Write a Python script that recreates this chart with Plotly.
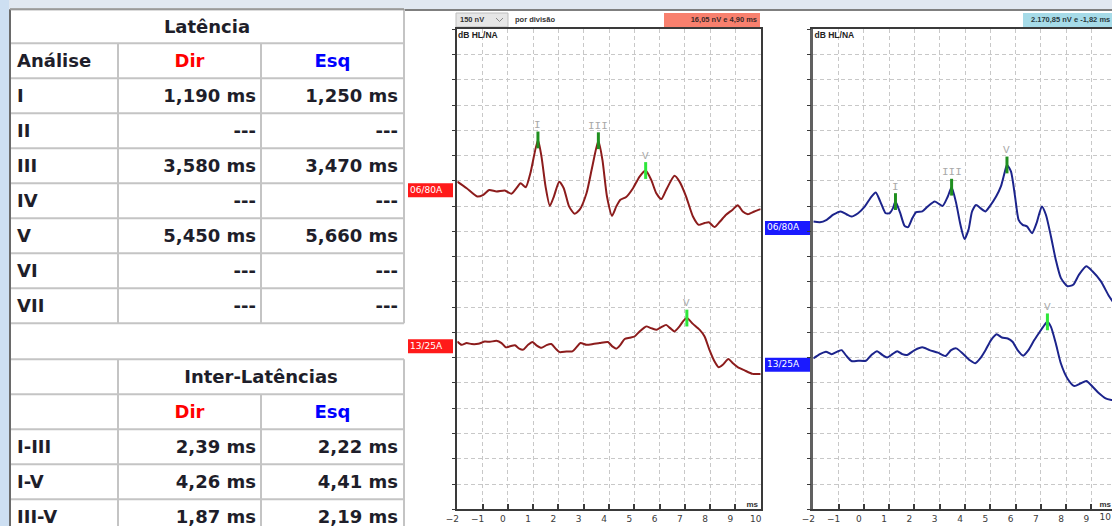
import plotly.graph_objects as go

# ---------------- data ----------------
# Latency table (ms); None = wave not identified
wave_names = ["I", "II", "III", "IV", "V", "VI", "VII"]
dir_latency_ms = [1.190, None, 3.580, None, 5.450, None, None]
esq_latency_ms = [1.250, None, 3.470, None, 5.660, None, None]

# Inter-peak intervals, as pairs of wave indices
inter_names = ["I-III", "I-V", "III-V"]
inter_pairs = [(0, 2), (0, 4), (2, 4)]

# Waveforms: time (ms) and amplitude (grid divisions, 150 nV per division)
dir_80_ms = [-2, -1.63, -1.21, -0.97, -0.74, -0.45, -0.12, 0.14, 0.34, 0.5, 0.71, 0.89, 1.19, 1.33,
             1.49, 1.66, 1.82, 2.03, 2.21, 2.42, 2.64, 2.84, 3.11, 3.34, 3.58, 3.74, 3.92, 4.12, 4.29,
             4.45, 4.68, 4.95, 5.21, 5.45, 5.67, 5.87, 6.07, 6.26, 6.59, 6.79, 7.05, 7.32, 7.55, 7.78,
             7.95, 8.17, 8.39, 8.63, 8.89, 9.09, 9.29, 9.49, 9.75, 10.0]
dir_80_amp = [12.97, 12.71, 12.38, 12.45, 12.64, 12.58, 12.62, 12.49, 12.71, 12.91, 12.75, 13.30, 14.62,
              13.96, 12.78, 12.01, 12.38, 12.97, 12.71, 11.99, 11.70, 11.86, 12.51, 13.57, 14.59, 13.83,
              12.38, 11.62, 11.99, 12.25, 12.36, 12.71, 13.17, 13.41, 13.04, 12.51, 12.28, 12.64, 13.20,
              12.97, 12.38, 11.59, 11.26, 11.33, 11.36, 11.17, 11.39, 11.66, 11.86, 12.04, 11.79, 11.68,
              11.79, 11.88]

dir_25_ms = [-2, -1.83, -1.63, -1.43, -1.17, -0.91, -0.71, -0.45, -0.25, -0.08, 0.08, 0.28, 0.45, 0.61,
             0.80, 0.97, 1.13, 1.33, 1.53, 1.72, 1.89, 2.05, 2.32, 2.55, 2.71, 2.87, 3.11, 3.37, 3.63,
             3.96, 4.13, 4.29, 4.45, 4.62, 4.82, 5.01, 5.21, 5.47, 5.67, 5.89, 6.07, 6.26, 6.42, 6.59,
             6.79, 6.95, 7.08, 7.32, 7.58, 7.78, 7.97, 8.17, 8.34, 8.50, 8.72, 8.89, 9.09, 9.36, 9.68, 10.0]
dir_25_amp = [6.64, 6.51, 6.58, 6.54, 6.55, 6.64, 6.63, 6.67, 6.58, 6.41, 6.45, 6.49, 6.36, 6.32, 6.51,
              6.62, 6.49, 6.39, 6.50, 6.54, 6.36, 6.22, 6.25, 6.25, 6.41, 6.58, 6.51, 6.54, 6.58, 6.62,
              6.45, 6.36, 6.51, 6.74, 6.79, 6.84, 7.04, 7.24, 7.17, 7.11, 7.21, 7.30, 7.17, 7.04, 7.24,
              7.47, 7.57, 7.34, 7.11, 6.84, 6.32, 5.86, 5.62, 5.72, 5.95, 5.79, 5.63, 5.50, 5.36, 5.36]

esq_80_ms = [-2, -1.74, -1.47, -1.21, -0.92, -0.69, -0.49, -0.23, 0.04, 0.26, 0.47, 0.65, 0.86, 1.02,
             1.15, 1.25, 1.44, 1.61, 1.75, 1.92, 2.07, 2.31, 2.53, 2.80, 2.97, 3.12, 3.32, 3.47, 3.65,
             3.82, 3.98, 4.14, 4.28, 4.44, 4.61, 4.81, 4.99, 5.23, 5.42, 5.56, 5.66, 5.82, 5.98, 6.12,
             6.28, 6.45, 6.65, 6.83, 7.04, 7.20, 7.40, 7.59, 7.79, 8.05, 8.28, 8.51, 8.80, 9.04, 9.37,
             9.70, 10.0]
esq_80_amp = [11.39, 11.36, 11.46, 11.66, 11.79, 11.68, 11.59, 11.72, 11.99, 12.32, 12.54, 12.18, 11.72,
              11.72, 11.92, 12.18, 11.72, 11.22, 11.17, 11.53, 11.76, 11.79, 11.99, 12.18, 12.09, 12.01,
              12.38, 12.75, 12.12, 11.26, 10.70, 11.07, 11.79, 12.05, 11.92, 11.79, 12.01, 12.38, 12.78,
              13.30, 13.63, 13.37, 12.38, 11.46, 11.26, 11.20, 10.93, 11.33, 11.99, 11.66, 10.80, 9.88,
              9.16, 8.83, 8.89, 9.29, 9.62, 9.42, 9.03, 8.43, 8.0]

esq_25_ms = [-2, -1.74, -1.50, -1.28, -1.05, -0.88, -0.69, -0.49, -0.23, 0.08, 0.30, 0.52, 0.73, 0.92,
             1.13, 1.32, 1.52, 1.71, 2.01, 2.31, 2.60, 2.93, 3.23, 3.45, 3.65, 3.91, 4.18, 4.41, 4.60,
             4.81, 5.03, 5.25, 5.46, 5.69, 5.88, 6.08, 6.30, 6.51, 6.74, 6.96, 7.17, 7.26, 7.40, 7.59,
             7.79, 8.05, 8.32, 8.58, 8.80, 9.04, 9.30, 9.56, 9.79, 10.0]
esq_25_amp = [5.97, 6.14, 6.24, 6.14, 6.24, 6.30, 6.07, 5.87, 5.88, 5.88, 6.11, 6.26, 6.11, 6.01, 6.14,
              6.26, 6.14, 6.11, 6.30, 6.41, 6.30, 6.20, 6.07, 6.30, 6.37, 6.17, 5.91, 5.78, 5.97, 6.30,
              6.70, 6.93, 6.80, 6.76, 6.63, 6.30, 6.08, 6.30, 6.70, 7.03, 7.33, 7.42, 7.22, 6.57, 5.78,
              5.18, 4.88, 4.99, 5.08, 4.86, 4.59, 4.39, 4.33, 4.30]

# Low-intensity wave V latencies (ms)
dir_25_wave_v_ms = 7.08
esq_25_wave_v_ms = 7.26

x_ticks = list(range(-2, 11))
scale_label = "150 nV"
dir_cursor_text = "16,05 nV e 4,90 ms"
esq_cursor_text = "2.170,85 nV e -1,82 ms"
level_80_name = "06/80A"
level_25_name = "13/25A"

# ---------------- styling ----------------
W, H = 1112, 526
RED_TRACE = "#8c1c1c"
BLUE_TRACE = "#1c248c"
GREEN_DARK = "#1f8f1f"
GREEN_LIGHT = "#2ee63a"
TXT = "#1e1e2a"
GRID = "#c8c8c8"
CELL = "#c4c4c4"
FONT = "DejaVu Sans"
SMALL_FONT = "Liberation Sans"


def px(x):
    return x / W


def py(y):
    return 1 - y / H


fig = go.Figure()

# ---------------- waveforms ----------------
def add_wave(xs, ys, color, xa, ya):
    fig.add_trace(go.Scatter(x=xs, y=ys, mode="lines", xaxis=xa, yaxis=ya,
                             line=dict(color=color, width=2, shape="spline", smoothing=0.6),
                             hoverinfo="skip"))


peak_labels = []


def add_peak(xs, ys, lat, name, color, xa, ya):
    amp = ys[xs.index(lat)]
    fig.add_trace(go.Scatter(x=[lat], y=[amp], mode="markers", xaxis=xa, yaxis=ya, cliponaxis=False,
                             marker=dict(symbol="line-ns", size=12,
                                         line=dict(color=color, width=3)),
                             hoverinfo="skip"))
    peak_labels.append(dict(x=lat, y=amp, xref=xa, yref=ya, text=name, showarrow=False, yshift=15,
                            font=dict(family="Liberation Mono", size=11, color="#a8a8a8")))


add_wave(dir_80_ms, dir_80_amp, RED_TRACE, "x", "y")
add_wave(dir_25_ms, dir_25_amp, RED_TRACE, "x", "y")
add_wave(esq_80_ms, esq_80_amp, BLUE_TRACE, "x2", "y2")
add_wave(esq_25_ms, esq_25_amp, BLUE_TRACE, "x2", "y2")

for name, lat in zip(wave_names, dir_latency_ms):
    if lat is not None:
        add_peak(dir_80_ms, dir_80_amp, lat, name, GREEN_LIGHT if name == "V" else GREEN_DARK, "x", "y")
for name, lat in zip(wave_names, esq_latency_ms):
    if lat is not None:
        add_peak(esq_80_ms, esq_80_amp, lat, name, GREEN_DARK, "x2", "y2")
add_peak(dir_25_ms, dir_25_amp, dir_25_wave_v_ms, "V", GREEN_LIGHT, "x", "y")
add_peak(esq_25_ms, esq_25_amp, esq_25_wave_v_ms, "V", GREEN_LIGHT, "x2", "y2")

# ---------------- axes ----------------
plot_top, plot_bottom = 29.3, 509.3
ydom = [py(plot_bottom), py(plot_top)]
left_x0, left_x1 = 457.3, 760.7
right_x0 = 813.3
ms_px = (left_x1 - left_x0) / 12
right_xmax = -2 + (W - right_x0) / ms_px

xcommon = dict(dtick=1, tick0=0, showgrid=True, gridcolor=GRID, griddash="4px,3px", gridwidth=1,
               zeroline=False, showline=True, linecolor="#3a3a3a", linewidth=2, ticks="inside",
               ticklen=5, tickcolor="#3a3a3a", tickwidth=1.5, tickvals=x_ticks,
               tickfont=dict(family=FONT, size=9, color="#3a3a3a"), ticklabelshift=-5,
               fixedrange=True)
ycommon = dict(range=[0, 19], dtick=1, tick0=0, showgrid=True, gridcolor=GRID, griddash="4px,3px",
               gridwidth=1, zeroline=False, showline=True, linecolor="#3a3a3a", linewidth=1.5,
               ticks="outside", ticklen=4, tickcolor="#3a3a3a", showticklabels=False,
               domain=ydom, fixedrange=True)

# full-figure pixel frame for text labels
pixel_axis = dict(visible=False, showgrid=False, zeroline=False, fixedrange=True, domain=[0, 1])

fig.update_layout(
    xaxis=dict(xcommon, domain=[px(left_x0), px(left_x1)], range=[-2, 10], mirror=True, anchor="y"),
    yaxis=dict(ycommon, mirror=True, anchor="x"),
    xaxis2=dict(xcommon, domain=[px(right_x0), 1.0], range=[-2, right_xmax], mirror=True, anchor="y2"),
    yaxis2=dict(ycommon, anchor="x2", linecolor="#606060", linewidth=2.5),
    xaxis3=dict(pixel_axis, range=[0, W], anchor="y3"),
    yaxis3=dict(pixel_axis, range=[H, 0], anchor="x3"),
)

shapes = []


def rect(x0, y0, x1, y1, fill, line_color=None, lw=0):
    shapes.append(dict(type="rect", xref="paper", yref="paper", x0=px(x0), x1=px(x1), y0=py(y1),
                       y1=py(y0), fillcolor=fill, layer="below",
                       line=dict(color=line_color or fill, width=lw)))


def hline(x0, x1, y, color, w):
    shapes.append(dict(type="line", xref="paper", yref="paper", x0=px(x0), x1=px(x1), y0=py(y),
                       y1=py(y), line=dict(color=color, width=w), layer="below"))


def vline(x, y0, y1, color, w):
    shapes.append(dict(type="line", xref="paper", yref="paper", x0=px(x), x1=px(x), y0=py(y0),
                       y1=py(y1), line=dict(color=color, width=w), layer="below"))


POS = {"left": "middle right", "center": "middle center", "right": "middle left"}


def text(x, y, s, size=18, color=TXT, xanchor="left", weight="bold", family=FONT):
    fig.add_trace(go.Scatter(x=[x], y=[y], xaxis="x3", yaxis="y3", mode="text", text=[s],
                             textposition=POS[xanchor], hoverinfo="skip",
                             textfont=dict(family=family, size=size, color=color, weight=weight)))


# window backdrop
rect(0, 0, W, 9, "#e1e8f1")
rect(0, 0, 9, H, "#cddff2")
hline(404, W, 10, "#555555", 1.5)

# ---------------- panel headers ----------------
rect(456, 13, 508, 27, "#e6e6e6", "#bdbdbd", 1)
text(460, 20, scale_label, size=7.5, color="#333333", family=SMALL_FONT)
shapes.append(dict(type="path", xref="paper", yref="paper", layer="below",
                   path=f"M {px(496)},{py(18)} L {px(499.5)},{py(21.5)} L {px(503)},{py(18)}",
                   line=dict(color="#888888", width=1)))
text(515, 20, "por divisão", size=7.5, color="#333333", family=SMALL_FONT)
rect(664, 13, 760, 27, "#f8806e")
text(757, 20, dir_cursor_text, size=7.5, color="#3a2a2a", xanchor="right", family=SMALL_FONT)
rect(1023, 13, W + 5, 27, "#a6dbe8")
text(1031, 20, esq_cursor_text, size=7.5, color="#2a3a40", family=SMALL_FONT)
text(458, 36, "dB HL/NA", size=8.5, color="#222222", family=SMALL_FONT)
text(814.5, 36, "dB HL/NA", size=8.5, color="#222222", family=SMALL_FONT)

# stimulus level tags
tags = [(408, 183.3, "#ff1a1a", level_80_name), (408, 339.3, "#ff1a1a", level_25_name),
        (765, 221.0, "#1a1aff", level_80_name), (765, 357.7, "#1a1aff", level_25_name)]
for x0, y0, col, name in tags:
    rect(x0, y0, x0 + 45, y0 + 14, col)
    text(x0 + 2, y0 + 7, name, size=9, color="white", weight="normal")

# x-axis unit labels and the last tick label of the right panel
text(758, 504.5, "ms", size=8, color="#333333", xanchor="right", family=SMALL_FONT)
text(1111, 504.5, "ms", size=8, color="#333333", xanchor="right", family=SMALL_FONT)
text(1111, 518, "10", size=9, color="#3a3a3a", xanchor="right", weight="normal")

# ---------------- latency table ----------------
TY = 2  # baseline nudge of the table text within its rows
col_x = [10, 118, 261, 404]
t1_rows = [9.3, 43.3, 78.3] + [78.3 + 35 * (i + 1) for i in range(len(wave_names))]
t1_bottom = t1_rows[-1]
for y in t1_rows:
    hline(col_x[0], col_x[3], y, CELL, 2)
vline(col_x[1], t1_rows[1], t1_bottom, CELL, 2)
vline(col_x[2], t1_rows[1], t1_bottom, CELL, 2)
vline(col_x[3], t1_rows[0], t1_bottom, CELL, 2)

text((col_x[0] + col_x[3]) / 2, (t1_rows[0] + t1_rows[1]) / 2 + TY, "Latência", xanchor="center")
hdr_y = (t1_rows[1] + t1_rows[2]) / 2 + TY
text(17, hdr_y, "Análise")
text((col_x[1] + col_x[2]) / 2, hdr_y, "Dir", color="#ff0000", xanchor="center")
text((col_x[2] + col_x[3]) / 2, hdr_y, "Esq", color="#0000ff", xanchor="center")


def fmt_lat(v):
    return "---" if v is None else f"{v:.3f}".replace(".", ",") + " ms"


for i, name in enumerate(wave_names):
    yc = (t1_rows[2 + i] + t1_rows[3 + i]) / 2 + TY
    text(17, yc, name)
    text(col_x[2] - 5, yc, fmt_lat(dir_latency_ms[i]), xanchor="right")
    text(col_x[3] - 6, yc, fmt_lat(esq_latency_ms[i]), xanchor="right")

# ---------------- inter-peak table ----------------
t2_rows = [359.3 + 35 * i for i in range(6)]
for y in t2_rows[:5]:
    hline(col_x[0], col_x[3], y, CELL, 2)
vline(col_x[1], t2_rows[0], H, CELL, 2)
vline(col_x[2], t2_rows[1], H, CELL, 2)
vline(col_x[3], t2_rows[0], H, CELL, 2)
text((col_x[1] + col_x[3]) / 2, (t2_rows[0] + t2_rows[1]) / 2 + TY, "Inter-Latências",
     xanchor="center")
hdr2_y = (t2_rows[1] + t2_rows[2]) / 2 + TY
text((col_x[1] + col_x[2]) / 2, hdr2_y, "Dir", color="#ff0000", xanchor="center")
text((col_x[2] + col_x[3]) / 2, hdr2_y, "Esq", color="#0000ff", xanchor="center")


def fmt_int(lat, a, b):
    return f"{lat[b] - lat[a]:.2f}".replace(".", ",") + " ms"


for i, (name, (a, b)) in enumerate(zip(inter_names, inter_pairs)):
    yc = (t2_rows[2 + i] + t2_rows[3 + i]) / 2 + TY
    text(17, yc, name)
    text(col_x[2] - 5, yc, fmt_int(dir_latency_ms, a, b), xanchor="right")
    text(col_x[3] - 6, yc, fmt_int(esq_latency_ms, a, b), xanchor="right")

# table outer left border
vline(col_x[0], t1_rows[0], H, "#6a6a6a", 2)
hline(col_x[0], col_x[3], t1_rows[0], "#9a9a9a", 2)

fig.update_layout(width=W, height=H, margin=dict(l=0, r=0, t=0, b=0, autoexpand=False),
                  paper_bgcolor="white", plot_bgcolor="rgba(0,0,0,0)", showlegend=False,
                  shapes=shapes, annotations=peak_labels)

fig.write_html("out.html", config={"displayModeBar": False})
